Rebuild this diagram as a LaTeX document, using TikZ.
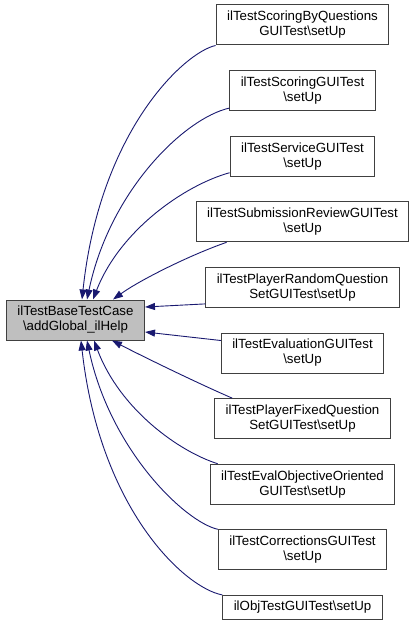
\documentclass[tikz,border=0pt]{standalone}
\usepackage{fontspec}
\setmainfont{Liberation Sans}
\usepackage{xcolor}
\usepackage{tikz}
\usetikzlibrary{positioning,arrows.meta}
\definecolor{DoxyBlue}{HTML}{191970}
\definecolor{DoxyGrey}{HTML}{404040}
\definecolor{DoxyFill}{HTML}{BFBFBF}

\begin{document}
\begin{tikzpicture}[x=1pt, y=-1pt, node distance=24.6pt, >={Triangle[length=10pt,width=7pt]},
    every node/.style={font=\fontsize{13.3}{15}\selectfont}]
    \tikzstyle{box}=[draw=DoxyGrey, line width=1pt, align=center, inner xsep=11pt,
                     minimum height=40pt, fill=white]
    \tikzstyle{basebox}=[box, fill=DoxyFill]
    \tikzstyle{dep}=[->, line width=0.9pt, color=DoxyBlue]

    \useasboundingbox (0,0) rectangle (416,626);

    \node[basebox] (base) at (75.5,320) {ilTestBaseTestCase\\ \textbackslash addGlobal\_ilHelp};
    \node[box] (scoringbyq) at (302.5,25) {ilTestScoringByQuestions\\ GUITest\textbackslash setUp};
    \node[box, below=of scoringbyq] (scoring) {ilTestScoringGUITest\\ \textbackslash setUp};
    \node[box, below=of scoring] (service) {ilTestServiceGUITest\\ \textbackslash setUp};
    \node[box, below=of service] (submission) {ilTestSubmissionReviewGUITest\\ \textbackslash setUp};
    \node[box, below=of submission] (randomq) {ilTestPlayerRandomQuestion\\ SetGUITest\textbackslash setUp};
    \node[box, below=of randomq] (evaluation) {ilTestEvaluationGUITest\\ \textbackslash setUp};
    \node[box, below=of evaluation] (fixedq) {ilTestPlayerFixedQuestion\\ SetGUITest\textbackslash setUp};
    \node[box, below=of fixedq] (objective) {ilTestEvalObjectiveOriented\\ GUITest\textbackslash setUp};
    \node[box, below=of objective] (corrections) {ilTestCorrectionsGUITest\\ \textbackslash setUp};
    \node[box, minimum height=24pt, below=of corrections] (objtest) {ilObjTestGUITest\textbackslash setUp};

    \draw[dep] (scoringbyq.south west) .. controls (185,52) and (100,130) .. ([xshift=6.5pt]base.north);
    \draw[dep] ([yshift=3pt]scoring.south west) .. controls (185,118) and (110,190) .. ([xshift=11.5pt]base.north);
    \draw[dep] ([yshift=4pt]service.south west) .. controls (185,185) and (120,230) .. ([xshift=17.5pt]base.north);
    \draw[dep] ([xshift=31pt]submission.south west) .. controls (190,255) and (140,280) .. ([xshift=37.5pt]base.north);
    \draw[dep] ([yshift=4pt]randomq.south west) -- ([yshift=13pt]base.east);
    \draw[dep] ([yshift=-8pt]evaluation.north west) -- ([yshift=-12pt]base.east);
    \draw[dep] ([xshift=18pt]fixedq.north west) .. controls (195,382) and (140,355) .. ([xshift=36.5pt]base.south);
    \draw[dep] ([xshift=8pt]objective.north west) .. controls (180,452) and (120,410) .. ([xshift=18.5pt]base.south);
    \draw[dep] (corrections.north west) .. controls (185,522) and (110,450) .. ([xshift=11.5pt]base.south);
    \draw[dep] (objtest.north west) .. controls (185,588) and (100,510) .. ([xshift=5.5pt]base.south);

\end{tikzpicture}
\end{document}
